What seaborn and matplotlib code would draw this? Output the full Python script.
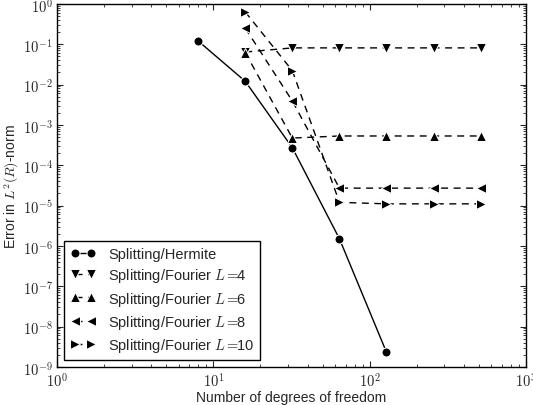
import numpy as np
import pandas as pd
import seaborn as sns
import matplotlib
matplotlib.use("Agg")
import matplotlib.pyplot as plt
from matplotlib.ticker import FuncFormatter

sns.set_style("ticks")
plt.rcParams['font.family'] = ['Liberation Sans', 'DejaVu Sans']
plt.rcParams['mathtext.fontset'] = 'cm'

# degrees of freedom
dof_hermite = [8, 16, 32, 64, 128]
dof_fourier = [16, 32, 64, 128, 256, 512]

# errors
err_hermite = [0.12, 0.012, 2.7e-4, 1.5e-6, 2.3e-9]
err_L4 = [0.064, 0.081, 0.081, 0.081, 0.081, 0.081]
err_L6 = [0.062, 4.7e-4, 5.3e-4, 5.3e-4, 5.3e-4, 5.3e-4]
err_L8 = [0.25, 0.0039, 2.7e-5, 2.7e-5, 2.7e-5, 2.7e-5]
err_L10 = [0.63, 0.022, 1.2e-5, 1.1e-5, 1.1e-5, 1.1e-5]

labels = ["Splitting/Hermite",
          r"Splitting/Fourier $L=\!\!$4",
          r"Splitting/Fourier $L=\!\!$6",
          r"Splitting/Fourier $L=\!\!$8",
          r"Splitting/Fourier $L=\!\!$10"]

fig = plt.figure(figsize=(5.33, 4.06), dpi=100)
ax = fig.add_axes([0.107, 0.094, 0.880, 0.894])

sns.lineplot(x=dof_hermite, y=err_hermite, ax=ax, color='k', marker='o',
             markersize=6.5, linewidth=1, linestyle='-', label=labels[0])
fourier = [(err_L4, 'v'), (err_L6, '^'), (err_L8, '<'), (err_L10, '>')]
for (err, mk), lab in zip(fourier, labels[1:]):
    sns.lineplot(x=dof_fourier, y=err, ax=ax, color='k', marker=mk,
                 markersize=6.5, linewidth=1, linestyle=(0, (5, 4)), label=lab)

ax.set_xscale('log')
ax.set_yscale('log')
ax.set_xlim(1, 1000)
ax.set_ylim(1e-9, 1)
ax.set_yticks([10.0**k for k in range(-9, 1)])
ax.set_xticks([1, 10, 100, 1000])
fmt = FuncFormatter(lambda v, p: r"$10^{%d}$" % int(round(np.log10(v))))
ax.xaxis.set_major_formatter(fmt)
ax.yaxis.set_major_formatter(fmt)
ax.tick_params(which='both', direction='in', top=True, right=True, labelsize=10.5)
ax.tick_params(which='major', length=4, pad=3)
ax.tick_params(which='minor', length=2)
for s in ax.spines.values():
    s.set_linewidth(1)
    s.set_color('k')

ax.set_xlabel("Number of degrees of freedom", fontsize=10, labelpad=1)
ax.set_ylabel("Error in $L^2(R)$-norm", fontsize=10)
ax.yaxis.set_label_coords(-0.077, 0.5)

leg = ax.legend(loc='lower left', numpoints=2, fontsize=10.5, fancybox=False,
                framealpha=1, edgecolor='k', handlelength=1.7,
                borderaxespad=0.5, labelspacing=0.35, handletextpad=0.9)
leg.get_frame().set_linewidth(1)

fig.savefig("out.png", dpi=100)
